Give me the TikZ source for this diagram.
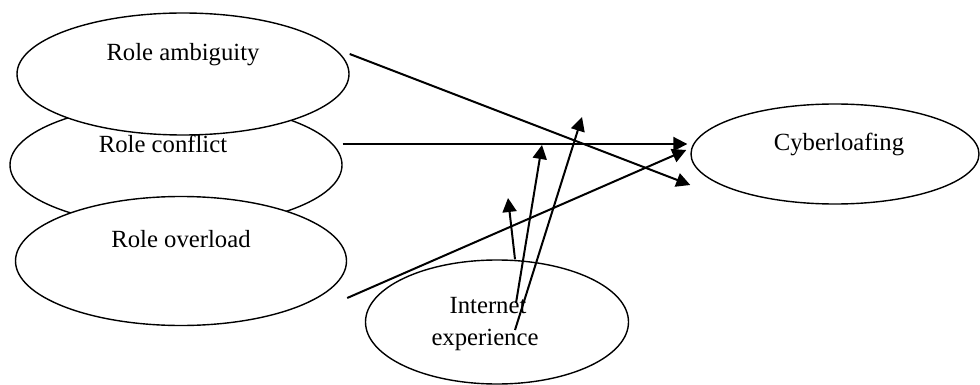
\documentclass[tikz,border=0pt]{standalone}
\usepackage{fontspec}
\setmainfont{Liberation Serif}
\usetikzlibrary{shapes.geometric, arrows.meta, positioning}

\begin{document}
\begin{tikzpicture}[
  x=0.5pt, y=-0.5pt,
  var/.style={draw, ellipse, line width=0.7pt, fill=white, inner sep=0pt},
  lbl/.style={anchor=base, inner sep=0pt, font=\fontsize{12.35}{14}\selectfont},
  arr/.style={line width=1pt, -{Triangle[length=7pt, width=7pt]}}
]
  \useasboundingbox (0,0) rectangle (980,385);

  % predictors (conflict first, the other two overlap it)
  \node[var, minimum width=166pt, minimum height=62pt] (conf) at (176,165) {};
  \node[var, minimum width=166pt, minimum height=61pt] (amb) at (183,74) {};
  \node[var, minimum width=165.5pt, minimum height=64.5pt] (over) at (181,261) {};

  % outcome and moderator
  \node[var, minimum width=144pt, minimum height=50pt] (cyber) at (835,154) {};
  \node[var, minimum width=131.5pt, minimum height=62pt] (inet) at (497,322) {};

  \node[lbl] (amb-t) at (183,61) {Role ambiguity};
  \node[lbl] (conf-t) at (163,153) {Role conflict};
  \node[lbl] (over-t) at (181,247) {Role overload};
  \node[lbl] (cyber-t) at (839,150) {Cyberloafing};
  \node[lbl] (inet-t1) at (488,313) {Internet};
  \node[lbl] (inet-t2) at (485,345) {experience};

  % direct effects
  \draw[arr] ([yshift=10pt]amb.east) -- ([yshift=-15.5pt]cyber.west);
  \draw[arr] ([yshift=10.5pt]conf.east) -- ([yshift=5pt,xshift=-1.5pt]cyber.west);
  \draw[arr] ([yshift=-18.5pt]over.east) -- ([yshift=2pt,xshift=-2pt]cyber.west);

  % moderating effects
  \coordinate (m1) at (508,198);
  \coordinate (m2) at (542,145);
  \coordinate (m3) at (582,117);
  \draw[arr] ([xshift=9pt]inet.north) -- (m1);
  \draw[arr] ([xshift=9.5pt,yshift=9.5pt]inet.center) -- (m2);
  \draw[arr] ([xshift=9pt,yshift=-4pt]inet.center) -- (m3);
\end{tikzpicture}
\end{document}
